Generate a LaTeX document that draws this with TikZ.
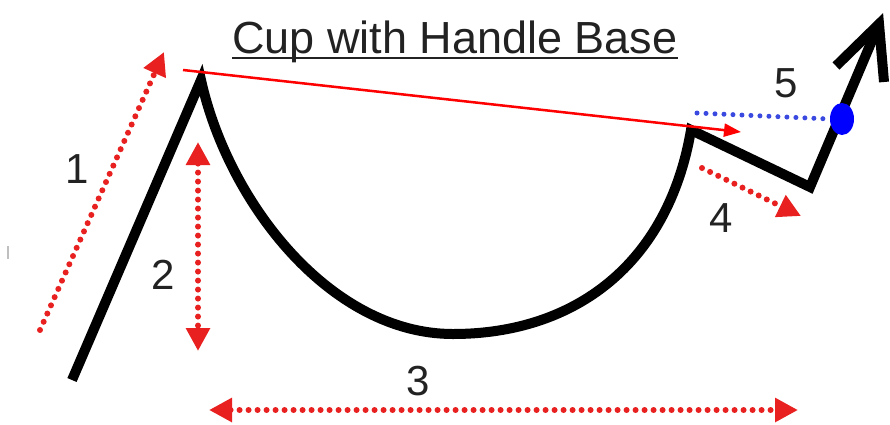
\documentclass[tikz,border=0pt]{standalone}
\usepackage{fontspec}
\setmainfont{Liberation Sans}
\usetikzlibrary{arrows.meta,shapes.geometric}
\definecolor{txt}{HTML}{222222}
\definecolor{dotred}{HTML}{E82020}
\definecolor{dotblue}{HTML}{3A4AE0}
\begin{document}
\begin{tikzpicture}[x=1pt,y=-1pt,
  price/.style={line width=10pt, line join=miter, miter limit=12, black},
  reddots/.style={dotred, line width=6pt, line cap=round, dash pattern=on 0pt off 9pt, >={Triangle[length=23pt,width=23pt]}},
  bluedots/.style={dotblue, line width=5pt, line cap=round, dash pattern=on 0pt off 9pt},
  trend/.style={red, line width=2.5pt, -{Triangle[length=17pt,width=13pt]}},
  num/.style={text=txt, font=\fontsize{42}{50}\selectfont, inner sep=0pt}]
\useasboundingbox (0,0) rectangle (890,424);

% title
\node[text=txt, font=\fontsize{45}{54}\selectfont, anchor=base, inner sep=0pt] (title) at (455,53) {Cup with Handle Base};
\draw[txt, line width=2.5pt] ([yshift=-5pt]title.base west) -- ([yshift=-5pt]title.base east);

% price path
\coordinate (start) at (72,380);
\coordinate (peak) at (201,80);
\coordinate (bot) at (453,334);
\coordinate (rim) at (691,130);
\coordinate (low) at (810,187);
\coordinate (tip) at (879,24);
\coordinate (armL) at (836,66);
\coordinate (armR) at (884,82);
\draw[price] (start) -- (peak) .. controls (228,202) and (330,334) .. (bot)
  .. controls (575,334) and (668,264) .. (rim) -- (low) -- (tip);
\draw[price] (armL) -- (tip) -- (armR);

% trend line
\coordinate (t1) at (183,70);
\coordinate (t2) at (741,132);
\draw[trend] (t1) -- (t2);

% blue breakout
\coordinate (b1) at (697,113);
\node[ellipse, fill=blue, draw=none, minimum width=24pt, minimum height=32pt, inner sep=0pt] (dot) at (842,119) {};
\draw[bluedots] (b1) -- (dot.west);

% red dotted arrows
\coordinate (a1s) at (40,330);
\coordinate (a1e) at (164,52);
\draw[reddots, ->] (a1s) -- (a1e);

\coordinate (a2s) at (198,142);
\coordinate (a2e) at (198,351);
\draw[reddots, <->] (a2s) -- (a2e);

\coordinate (a3s) at (209,410);
\coordinate (a3e) at (798,410);
\draw[reddots, <->] (a3s) -- (a3e);

\coordinate (a4s) at (702,168);
\coordinate (a4e) at (801,216);
\draw[reddots, ->] (a4s) -- (a4e);

% labels
\node[num] (n1) at (77,169) {1};
\node[num] (n2) at (163,275) {2};
\node[num] (n3) at (418,381) {3};
\node[num] (n4) at (721,218) {4};
\node[num] (n5) at (786,83) {5};

% small mark at left edge
\draw[gray!50, line width=1.5pt] (8,246) -- (8,259);
\end{tikzpicture}
\end{document}
